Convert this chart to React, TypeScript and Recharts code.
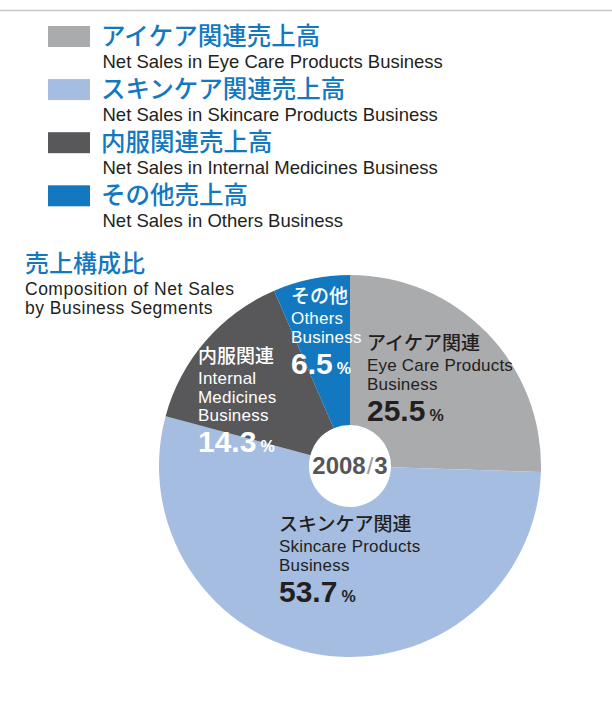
import React from 'react';
import { PieChart, Pie, Cell } from 'recharts';

// segment data (FY ending 2008/3)
const segmentsJa = ['アイケア関連', 'スキンケア関連', '内服関連', 'その他'];
const segmentsEn = [
    ['Eye Care Products', 'Business'],
    ['Skincare Products', 'Business'],
    ['Internal', 'Medicines', 'Business'],
    ['Others', 'Business'],
];
const shares = [25.5, 53.7, 14.3, 6.5];

const legendJa = ['アイケア関連売上高', 'スキンケア関連売上高', '内服関連売上高', 'その他売上高'];
const legendEn = [
    'Net Sales in Eye Care Products Business',
    'Net Sales in Skincare Products Business',
    'Net Sales in Internal Medicines Business',
    'Net Sales in Others Business',
];

const titleJa = '売上構成比';
const titleEn = ['Composition of Net Sales', 'by Business Segments'];
const periodLabel = ['2008', '3'];

const data = segmentsJa.map((name, i) => ({ name, value: shares[i] }));

const COLORS = ['#aaabad', '#a5bde1', '#58585a', '#1279c1'];
const LABEL_COLORS = ['#231f20', '#231f20', '#ffffff', '#ffffff'];
const BLUE = '#1478c0';
const LATIN = '"Liberation Sans", Arial, sans-serif';
const CJK = '"Noto Sans CJK JP", sans-serif';

const W = 612;
const H = 702;
const CX = 350;
const CY = 466;

// label anchor (left x, baseline of japanese line) relative to pie centre
const LABEL_POS = [
    { dx: 17, dy: -116 },
    { dx: -71, dy: 65 },
    { dx: -152, dy: -103 },
    { dx: -59, dy: -163 },
];

const renderLabel = (props: any) => {
    const { cx, cy, index } = props;
    const p = LABEL_POS[index];
    const x = cx + p.dx;
    const y = cy + p.dy;
    const color = LABEL_COLORS[index];
    const lines = segmentsEn[index];
    const pctY = y + 21 + (lines.length - 1) * 18.5 + 31;
    return (
        <g key={`lbl-${index}`}>
            <text x={x} y={y} fill={color} fontFamily={CJK} fontSize={19} fontWeight={500}>
                {segmentsJa[index]}
            </text>
            {lines.map((l, j) => (
                <text key={j} x={x} y={y + 21 + j * 18.5} fill={color} fontFamily={LATIN} fontSize={17} letterSpacing={0.2}>
                    {l}
                </text>
            ))}
            <text x={x} y={pctY} fill={color} fontFamily={LATIN} fontWeight={700}>
                <tspan fontSize={30}>{shares[index].toFixed(1)}</tspan>
                <tspan fontSize={16} dx={4}>%</tspan>
            </text>
        </g>
    );
};

const App = () => {
    return (
        <div style={{ position: 'absolute', left: 0, top: 0, width: W, height: H, background: '#fff' }}>
            <PieChart width={W} height={H} margin={{ top: 0, right: 0, bottom: 0, left: 0 }}>
                <Pie
                    data={data}
                    dataKey="value"
                    cx={CX}
                    cy={CY}
                    innerRadius={41}
                    outerRadius={191}
                    startAngle={90}
                    endAngle={-270}
                    stroke="none"
                    label={renderLabel}
                    labelLine={false}
                    isAnimationActive={false}
                >
                    {data.map((d, i) => (
                        <Cell key={d.name} fill={COLORS[i]} />
                    ))}
                </Pie>
            </PieChart>
            <svg width={W} height={H} style={{ position: 'absolute', left: 0, top: 0, pointerEvents: 'none' }}>
                <line x1={0} x2={W} y1={10.5} y2={10.5} stroke="#c6c6c6" strokeWidth={1.5} />
                {legendJa.map((t, i) => {
                    const base = 67.5 + i * 53.1;
                    return (
                        <g key={t}>
                            <rect x={48} y={base - 41.5} width={42} height={21} fill={COLORS[i]} />
                            <text x={101} y={base - 23} fill={BLUE} fontFamily={CJK} fontSize={24.5} fontWeight={500}>
                                {t}
                            </text>
                            <text x={102.5} y={base} fill="#231f20" fontFamily={LATIN} fontSize={18.5}>
                                {legendEn[i]}
                            </text>
                        </g>
                    );
                })}
                <text x={25} y={272} fill={BLUE} fontFamily={CJK} fontSize={24} fontWeight={500}>
                    {titleJa}
                </text>
                {titleEn.map((t, i) => (
                    <text key={t} x={25} y={295 + i * 18.5} fill="#231f20" fontFamily={LATIN} fontSize={17.5} letterSpacing={0.5}>
                        {t}
                    </text>
                ))}
                <text x={CX} y={CY + 8} textAnchor="middle" fontFamily={LATIN} fontSize={24} fontWeight={700} fill="#555658">
                    <tspan>{periodLabel[0]}</tspan>
                    <tspan fontWeight={400} fill="#9a9a9a" dx={1}>/</tspan>
                    <tspan dx={1}>{periodLabel[1]}</tspan>
                </text>
            </svg>
        </div>
    );
};

export default App;
